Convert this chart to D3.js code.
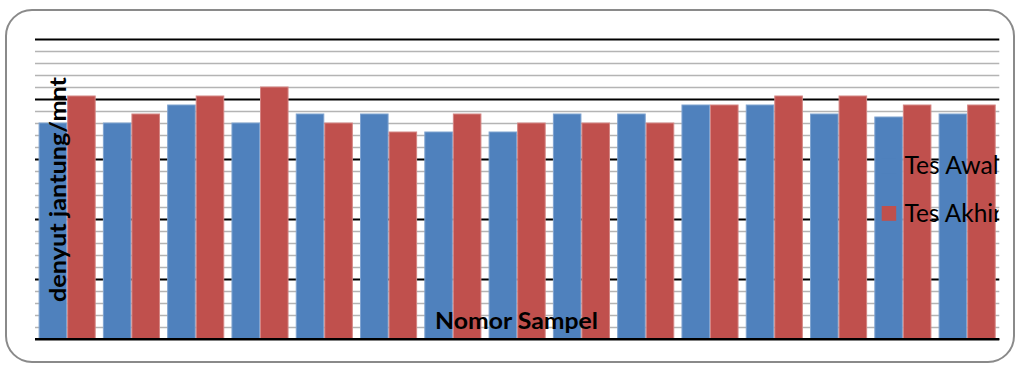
<!DOCTYPE html>
<html>
<head>
<meta charset="utf-8">
<script src="https://cdn.jsdelivr.net/npm/d3@7"></script>
<style>
  html, body { margin: 0; padding: 0; background: #fff; }
  svg { display: block; }
</style>
</head>
<body>
<svg id="chart" width="1016" height="365"></svg>
<script>
// ---- data ----
const categories = ["1","2","3","4","5","6","7","8","9","10","11","12","13","14","15"];
const seriesNames = ["Tes Awal", "Tes Akhir"];
const tesAwal  = [72, 72, 78, 72, 75, 75, 69, 69, 75, 75, 78, 78, 75, 74, 75];
const tesAkhir = [81, 75, 81, 84, 72, 69, 75, 72, 72, 72, 78, 81, 81, 78, 78];
const yDomain = [0, 100];
const majorStep = 20;
const minorStep = 4;
const yTitle = "denyut jantung/mnt";
const xTitle = "Nomor Sampel";

// ---- layout ----
const svg = d3.select("#chart");
const W = 1016, H = 365;
const plot = { left: 35, right: 999.3, top: 39, bottom: 339 };
const colors = ["#4F81BD", "#C0504D"];
const strokes = ["#7FA3D0", "#D48583"];

// outer rounded border
svg.append("rect")
  .attr("x", 6).attr("y", 10).attr("width", 1008).attr("height", 352)
  .attr("rx", 26).attr("ry", 26)
  .attr("fill", "#fff").attr("stroke", "#8a8a8a").attr("stroke-width", 2);

const x0 = d3.scaleBand().domain(categories)
  .range([plot.left, plot.right]).paddingInner(0.112).paddingOuter(0.056);
const x1 = d3.scaleBand().domain(seriesNames).range([0, x0.bandwidth()]).padding(0);
const y = d3.scaleLinear().domain(yDomain).range([plot.bottom, plot.top]);

// gridlines via axis
const minorTicks = d3.range(yDomain[0], yDomain[1] + 0.001, minorStep).filter(v => v % majorStep !== 0);
const majorTicks = d3.range(yDomain[0], yDomain[1] + 0.001, majorStep);

const minorAxis = d3.axisLeft(y).tickValues(minorTicks)
  .tickSize(-(plot.right - plot.left)).tickFormat("");
const gMinor = svg.append("g").attr("transform", `translate(${plot.left},0)`).call(minorAxis);
gMinor.select(".domain").remove();
gMinor.selectAll("line").attr("stroke", "#b4b4b4").attr("stroke-width", 1.6);

const majorAxis = d3.axisLeft(y).tickValues(majorTicks)
  .tickSize(-(plot.right - plot.left)).tickFormat("");
const gMajor = svg.append("g").attr("transform", `translate(${plot.left},0)`).call(majorAxis);
gMajor.select(".domain").remove();
gMajor.selectAll("line").attr("stroke", "#000").attr("stroke-width", 1.8);

// bars
const data = categories.map((c, i) => ({ cat: c, vals: [tesAwal[i], tesAkhir[i]] }));
const groups = svg.append("g").selectAll("g").data(data).join("g")
  .attr("transform", d => `translate(${x0(d.cat)},0)`);
groups.selectAll("rect").data(d => d.vals.map((v, k) => ({ k, v }))).join("rect")
  .attr("x", d => x1(seriesNames[d.k]) + 0.5)
  .attr("width", x1.bandwidth() - 1)
  .attr("y", d => y(d.v))
  .attr("height", d => y(0) - y(d.v))
  .attr("fill", d => colors[d.k])
  .attr("stroke", d => strokes[d.k])
  .attr("stroke-width", 1);

// redraw baseline over bars
svg.append("line")
  .attr("x1", plot.left).attr("x2", plot.right)
  .attr("y1", y(0)).attr("y2", y(0))
  .attr("stroke", "#000").attr("stroke-width", 1.8);

// clip for legend (plot area)
svg.append("clipPath").attr("id", "clipPlot")
  .append("rect").attr("x", 0).attr("y", 0).attr("width", 998.5).attr("height", H);

// legend
const legend = svg.append("g").attr("clip-path", "url(#clipPlot)");
const legendY = [174, 221.7];
const legendTextW = [94, 97.5];
seriesNames.forEach((name, k) => {
  legend.append("rect")
    .attr("x", 881.7).attr("y", legendY[k] - 15.7)
    .attr("width", 14.5).attr("height", 14.8)
    .attr("fill", colors[k]);
  legend.append("text")
    .attr("x", 904.5).attr("y", legendY[k])
    .attr("font-family", "Lato, 'Open Sans', sans-serif")
    .attr("font-size", 24.5)
    .attr("textLength", legendTextW[k])
    .attr("lengthAdjust", "spacingAndGlyphs")
    .attr("fill", "#000")
    .text(name);
});

// axis titles
svg.append("text")
  .attr("transform", `translate(65.5,189.5) rotate(-90)`)
  .attr("text-anchor", "middle")
  .attr("font-family", "Lato, 'Open Sans', sans-serif")
  .attr("font-weight", "bold")
  .attr("font-size", 23.5)
  .attr("textLength", 225)
  .attr("lengthAdjust", "spacingAndGlyphs")
  .attr("fill", "#000")
  .text(yTitle);

svg.append("text")
  .attr("x", 516.5).attr("y", 328.5)
  .attr("text-anchor", "middle")
  .attr("font-family", "Lato, 'Open Sans', sans-serif")
  .attr("font-weight", "bold")
  .attr("font-size", 23.5)
  .attr("textLength", 163)
  .attr("lengthAdjust", "spacingAndGlyphs")
  .attr("fill", "#000")
  .text(xTitle);
</script>
</body>
</html>
